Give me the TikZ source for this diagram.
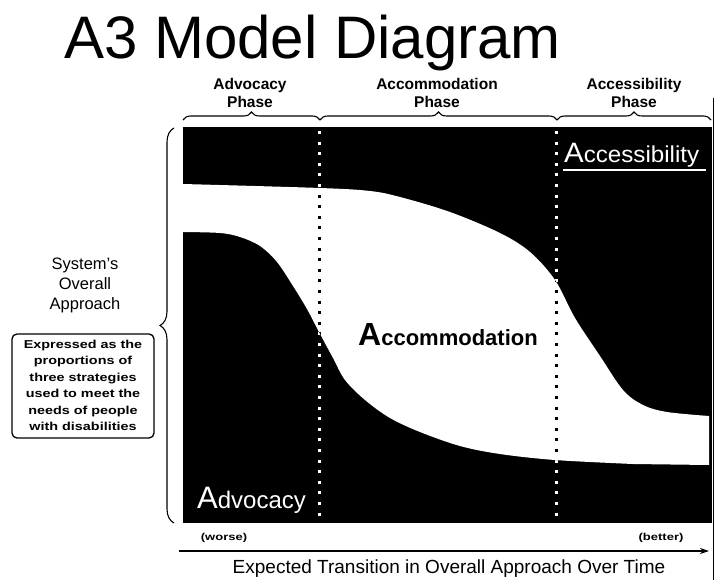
\documentclass[tikz,border=0pt]{standalone}
\usepackage{fontspec}
\usepackage{graphicx}
\setmainfont{Liberation Sans}
\usetikzlibrary{decorations.pathreplacing,arrows.meta}
\tikzset{
  phase/.style={align=center,font=\bfseries\fontsize{15.5}{17.5}\selectfont,inner sep=0pt},
  word/.style={inner sep=0pt,anchor=base west},
  brc/.style={decorate,decoration={brace,amplitude=8pt},line width=1.1pt},
  lbrc/.style={decorate,decoration={brace,amplitude=14pt},line width=1.1pt},
  dotline/.style={line width=3pt,dash pattern=on 3pt off 7.6pt},
  small/.style={inner sep=0pt,font=\bfseries\fontsize{10}{12}\selectfont},
}
\begin{document}
\begin{tikzpicture}[x=1pt,y=-1pt]
\useasboundingbox (0,0) rectangle (714,580);
\fill[white] (0,0) rectangle (714,580);

% title
\node[word] (title) at (64,59) {\fontsize{60}{64}\selectfont A3 Model Diagram};

% phase labels
\node[phase] (ph1) at (250,93) {Advocacy\\Phase};
\node[phase] (ph2) at (437,93) {Accommodation\\Phase};
\node[phase] (ph3) at (634,93) {Accessibility\\Phase};

% top braces
\coordinate (b0) at (183,120);
\coordinate (b1) at (320,120);
\coordinate (b2) at (557,120);
\coordinate (b3) at (711,120);
\draw[brc] (b0) -- (b1);
\draw[brc] (b1) -- (b2);
\draw[brc] (b2) -- (b3);

% left brace
\coordinate (lb0) at (174,523);
\coordinate (lb1) at (174,128);
\draw[lbrc] (lb0) -- (lb1);

% right border line
\coordinate (r0) at (713,98);
\coordinate (r1) at (713,580);
\draw[line width=0.8pt] (r0) -- (r1);

% black field
\fill[black] (183,127) rectangle (712,523);

% white accommodation band
\def\band{plot[smooth,tension=0.55] coordinates {(183,184) (320,188) (370,191) (400,197) (450,212) (500,233) (530,252) (555,280) (575,318) (600,356) (623,390) (643,405) (667,412) (709,416)}
 -- (709,465) -- plot[smooth,tension=0.55] coordinates {(633,464) (555,460) (500,454) (460,446) (420,432) (390,418) (365,400) (345,380) (333,358) (319,332) (307,309) (293,286) (277,262) (260,246) (240,237) (220,233) (183,232)} -- cycle}
\fill[white] \band;

% dotted phase dividers
\coordinate (d1t) at (319,131);
\coordinate (d1b) at (319,523);
\coordinate (d2t) at (556,131);
\coordinate (d2b) at (556,523);
\draw[dotline,white] (d1t) -- (d1b);
\draw[dotline,white] (d2t) -- (d2b);
\begin{scope}
  \clip \band;
  \draw[dotline,black] (d1t) -- (d1b);
  \draw[dotline,black] (d2t) -- (d2b);
\end{scope}

% strategy words
\node[word,text=white] (acc) at (564,163) {\scalebox{1.05}[1]{{\fontsize{28}{28}\selectfont A}{\fontsize{23}{23}\selectfont ccessibility}}};
\coordinate (u1) at (563,170);
\coordinate (u2) at (706,170);
\draw[white,line width=1.2pt] (u1) -- (u2);
\node[word,text=black] (acm) at (358,345) {\bfseries{\fontsize{32}{32}\selectfont A}{\fontsize{22}{22}\selectfont ccommodation}};
\node[word,text=white] (adv) at (197,508) {{\fontsize{31}{31}\selectfont A}{\fontsize{24}{24}\selectfont dvocacy}};

% left labels
\node[align=center,inner sep=0pt,font=\fontsize{16.5}{20}\selectfont] (sys) at (85,285) {System's\\Overall\\Approach};
\node[draw,rounded corners=5pt,line width=1.3pt,minimum width=142pt,minimum height=104pt,inner sep=0pt] (box) at (83,386)
  {\scalebox{1.25}[1]{\bfseries\fontsize{11.5}{16.5}\selectfont\begin{tabular}{@{}c@{}}Expressed as the\\proportions of\\three strategies\\used to meet the\\needs of people\\with disabilities\end{tabular}}};

% bottom axis
\coordinate (a1) at (179,551);
\coordinate (a2) at (709,551);
\draw[line width=1.2pt,-{Stealth[length=9pt,width=6pt]}] (a1) -- (a2);
\node[small] (worse) at (224,538) {\scalebox{1.3}[1]{(worse)}};
\node[small] (better) at (661,538) {\scalebox{1.3}[1]{(better)}};
\node[inner sep=0pt,font=\fontsize{19}{22}\selectfont] (xl) at (449,569) {Expected Transition in Overall Approach Over Time};
\end{tikzpicture}
\end{document}
